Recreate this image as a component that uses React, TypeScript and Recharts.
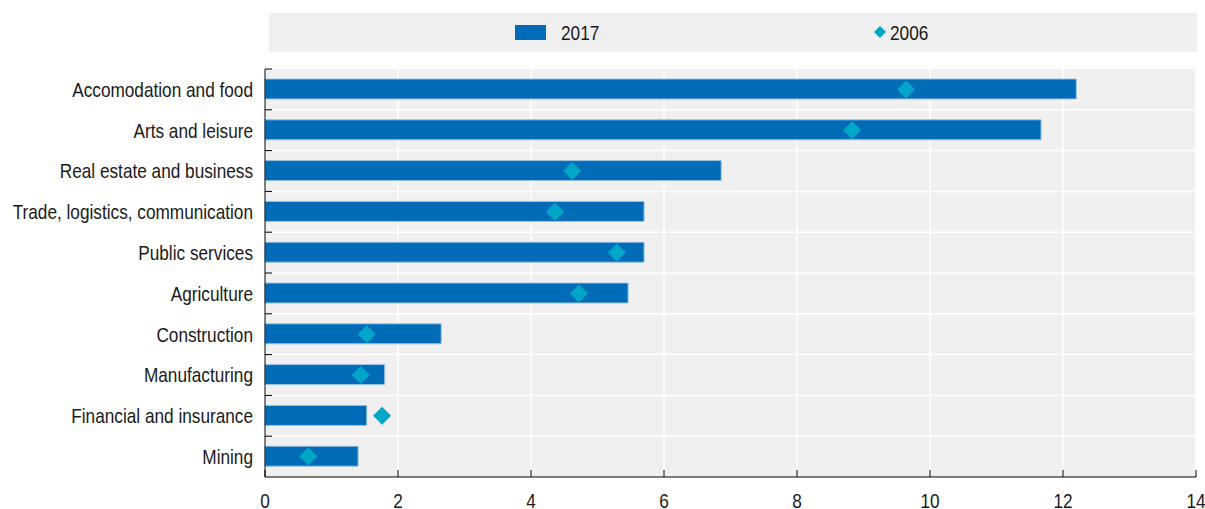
import React from 'react';
import { ComposedChart, Bar, Line, XAxis, YAxis, CartesianGrid } from 'recharts';

const categories = [
  'Accomodation and food',
  'Arts and leisure',
  'Real estate and business',
  'Trade, logistics, communication',
  'Public services',
  'Agriculture',
  'Construction',
  'Manufacturing',
  'Financial and insurance',
  'Mining',
];
const values2017 = [12.2, 11.67, 6.86, 5.7, 5.7, 5.46, 2.65, 1.8, 1.53, 1.4];
const values2006 = [9.64, 8.83, 4.62, 4.36, 5.29, 4.72, 1.53, 1.44, 1.76, 0.65];
const xTicks = [0, 2, 4, 6, 8, 10, 12, 14];

const data = categories.map((c, i) => ({ name: c, v2017: values2017[i], v2006: values2006[i] }));

const FONT = '"Liberation Sans", Arial, sans-serif';
const FS = 21;
const SX = 0.82;
const BAR = '#006BB6';
const DIAMOND = '#00A6C8';
const W = 1205;
const H = 509;
const XAXIS_H = 32;
const M = { top: 69, right: 9, bottom: 0, left: 0 };
const BAND = (H - M.top - M.bottom - XAXIS_H) / categories.length;

const YTick = (props: any) => {
  const { x, y, payload } = props;
  const ax = x + 12;
  return (
    <g>
      <line x1={ax} x2={ax + 7} y1={y - BAND / 2} y2={y - BAND / 2} stroke="#000" strokeWidth={1} />
      <text
        transform={`translate(${x},${y}) scale(${SX},1)`}
        x={0}
        y={0}
        dy="0.355em"
        textAnchor="end"
        fontFamily={FONT}
        fontSize={FS}
        fill="#1a1a1a"
      >
        {payload.value}
      </text>
    </g>
  );
};

const XTick = (props: any) => {
  const { x, y, payload } = props;
  return (
    <g>
      <line x1={x} x2={x} y1={y} y2={y - 7} stroke="#000" strokeWidth={1} />
      <text
        transform={`translate(${x},${y + 24}) scale(${SX},1)`}
        x={0}
        y={0}
        dy="0.355em"
        textAnchor="middle"
        fontFamily={FONT}
        fontSize={FS}
        fill="#1a1a1a"
      >
        {payload.value}
      </text>
    </g>
  );
};

const Diamond = (props: any) => {
  const { cx, cy } = props;
  if (cx == null || cy == null) return null;
  const s = 9;
  return (
    <polygon
      points={`${cx},${cy - s} ${cx + s},${cy} ${cx},${cy + s} ${cx - s},${cy}`}
      fill={DIAMOND}
    />
  );
};

const legendText: React.CSSProperties = {
  position: 'absolute',
  top: 8,
  lineHeight: '24px',
  transform: `scaleX(${SX})`,
  transformOrigin: 'left center',
  whiteSpace: 'nowrap',
};

export default function App() {
  return (
    <div style={{ position: 'absolute', left: 0, top: 0, width: W, height: H, background: '#fff' }}>
      <div
        style={{
          position: 'absolute',
          left: 269,
          top: 13,
          width: 928,
          height: 39,
          background: '#efefef',
          fontFamily: FONT,
          fontSize: FS,
          color: '#1a1a1a',
        }}
      >
        <div style={{ position: 'absolute', left: 246, top: 12, width: 31, height: 15, background: BAR }} />
        <div style={{ ...legendText, left: 292 }}>2017</div>
        <svg style={{ position: 'absolute', left: 605, top: 13 }} width={14} height={14}>
          <polygon points="6,0 12,6 6,12 0,6" fill={DIAMOND} />
        </svg>
        <div style={{ ...legendText, left: 621 }}>2006</div>
      </div>
      <ComposedChart width={W} height={H} data={data} layout="vertical" margin={M}>
        <CartesianGrid
          fill="#f0f0f0"
          stroke="#ffffff"
          strokeWidth={1.5}
          horizontalCoordinatesGenerator={({ offset }: any) =>
            categories.slice(1).map((_, i) => offset.top + ((i + 1) * offset.height) / categories.length)
          }
        />
        <XAxis
          type="number"
          domain={[0, 14]}
          ticks={xTicks}
          interval={0}
          axisLine={{ stroke: '#000', strokeWidth: 1 }}
          tickLine={false}
          tickSize={0}
          tickMargin={0}
          tick={<XTick />}
          height={XAXIS_H}
        />
        <YAxis
          type="category"
          dataKey="name"
          width={265}
          axisLine={{ stroke: '#000', strokeWidth: 1 }}
          tickLine={false}
          tickSize={0}
          tickMargin={12}
          interval={0}
          tick={<YTick />}
        />
        <Bar dataKey="v2017" fill={BAR} stroke="#9cc3e3" strokeWidth={1} barSize={20} isAnimationActive={false} />
        <Line dataKey="v2006" stroke="none" dot={<Diamond />} activeDot={false} isAnimationActive={false} />
      </ComposedChart>
    </div>
  );
}
